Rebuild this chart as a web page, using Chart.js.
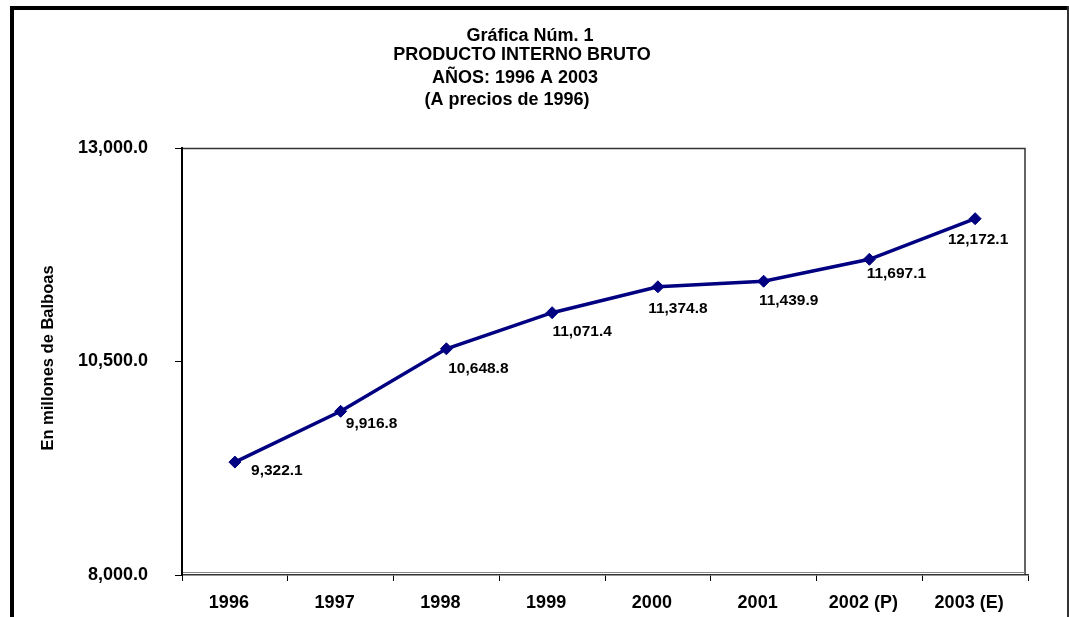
<!DOCTYPE html>
<html>
<head>
<meta charset="utf-8">
<script src="https://cdn.jsdelivr.net/npm/chart.js@4/dist/chart.umd.min.js"></script>
<style>
html,body{margin:0;padding:0;background:#fff;}
#wrap{position:relative;width:1069px;height:617px;}
</style>
</head>
<body>
<div id="wrap"><canvas id="c" width="1069" height="617"></canvas></div>
<script>
// ---- data ----
const categories = ["1996", "1997", "1998", "1999", "2000", "2001", "2002 (P)", "2003 (E)"];
const pibValues = [9322.1, 9916.8, 10648.8, 11071.4, 11374.8, 11439.9, 11697.1, 12172.1];
const yTicks = [8000, 10500, 13000];
const titleLines = ["Gráfica Núm. 1", "PRODUCTO INTERNO BRUTO", "AÑOS: 1996 A 2003", "(A precios de 1996)"];
const yAxisTitle = "En millones de Balboas";

// ---- styles ----
const labelOffsets = [[42, 9], [31, 12], [32, 20], [30, 19], [20, 22], [25, 19], [27, 14], [3, 21]];
const FONT = "'Liberation Sans', Arial, sans-serif";
const fmt = v => v.toLocaleString('en-US', {minimumFractionDigits: 1, maximumFractionDigits: 1});

const decor = {
  id: 'decor',
  beforeDraw(chart) {
    const ctx = chart.ctx;
    const a = chart.chartArea;
    ctx.save();
    ctx.fillStyle = '#fff';
    ctx.fillRect(0, 0, chart.width, chart.height);
    // outer frame
    ctx.fillStyle = '#000';
    ctx.fillRect(10, 6, 1059, 4);
    ctx.fillRect(10, 6, 4, 611);
    ctx.fillStyle = '#333';
    ctx.fillRect(1067, 6, 2, 611);
    // plot frame
    const right = a.right - 3;
    ctx.strokeStyle = '#333';
    ctx.lineWidth = 1.5;
    ctx.beginPath();
    ctx.moveTo(a.left, a.top + 0.5); ctx.lineTo(right, a.top + 0.5);
    ctx.lineTo(right, a.bottom);
    ctx.stroke();
    ctx.strokeStyle = '#888';
    ctx.lineWidth = 1;
    ctx.beginPath();
    ctx.moveTo(a.left, a.bottom - 2.5); ctx.lineTo(right, a.bottom - 2.5);
    ctx.stroke();
    // title
    ctx.fillStyle = '#000';
    ctx.font = 'bold 18px ' + FONT;
    ctx.textAlign = 'center';
    ctx.textBaseline = 'middle';
    const ys = [36, 55, 78, 100];
    const xs = [530, 522, 515, 507];
    titleLines.forEach((t, i) => ctx.fillText(t, xs[i], ys[i]));
    // y title
    ctx.save();
    ctx.translate(48, 358);
    ctx.rotate(-Math.PI / 2);
    ctx.font = 'bold 16.5px ' + FONT;
    ctx.fillText(yAxisTitle, 0, 0);
    ctx.restore();
    ctx.restore();
  },
  afterDatasetsDraw(chart) {
    const ctx = chart.ctx;
    const meta = chart.getDatasetMeta(0);
    ctx.save();
    ctx.fillStyle = '#000';
    ctx.font = 'bold 15.5px ' + FONT;
    ctx.textAlign = 'center';
    ctx.textBaseline = 'middle';
    meta.data.forEach((pt, i) => {
      const o = labelOffsets[i];
      ctx.fillText(fmt(pibValues[i]), pt.x + o[0], pt.y + o[1]);
    });
    ctx.restore();
  }
};

new Chart(document.getElementById('c'), {
  type: 'line',
  data: {
    labels: categories,
    datasets: [{
      data: pibValues,
      borderColor: '#000080',
      backgroundColor: '#000080',
      borderWidth: 3.5,
      pointStyle: 'rectRot',
      pointRadius: 6,
      pointBorderWidth: 1,
      pointBackgroundColor: '#000080',
      pointBorderColor: '#000080',
      tension: 0,
      fill: false
    }]
  },
  options: {
    responsive: false,
    animation: false,
    events: [],
    layout: { padding: { top: 148, right: 41, bottom: 0, left: 0 } },
    plugins: { legend: { display: false }, title: { display: false }, tooltip: { enabled: false } },
    scales: {
      x: {
        type: 'category',
        offset: true,
        grid: { offset: true, drawOnChartArea: false, drawTicks: true, tickLength: 6, color: '#000', lineWidth: 1 },
        border: { display: true, color: '#333', width: 1.5 },
        ticks: { color: '#000', font: { family: FONT, size: 18, weight: 'bold' }, padding: 11, labelOffset: -6, maxRotation: 0, autoSkip: false },
        afterFit(s) { s.height = 42; }
      },
      y: {
        min: 8000, max: 13000,
        afterBuildTicks(s) { s.ticks = yTicks.map(v => ({ value: v })); },
        grid: { drawOnChartArea: false, drawTicks: true, tickLength: 7, color: '#000', lineWidth: 1 },
        border: { display: true, color: '#000', width: 2 },
        ticks: { color: '#000', font: { family: FONT, size: 18, weight: 'bold' }, padding: 27, callback: v => fmt(v) },
        afterFit(s) { s.width = 182; }
      }
    }
  },
  plugins: [decor]
});
</script>
</body>
</html>
